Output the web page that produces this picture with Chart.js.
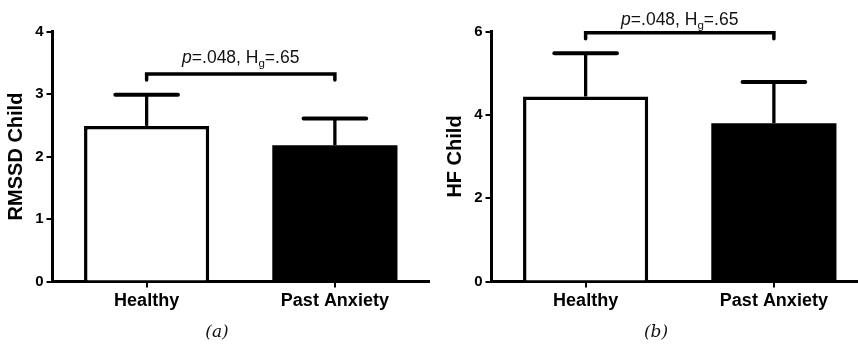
<!DOCTYPE html>
<html>
<head>
<meta charset="utf-8">
<script src="https://cdn.jsdelivr.net/npm/chart.js@4"></script>
<style>
  html, body { margin: 0; padding: 0; background: #fff; overflow: hidden; width: 858px; height: 346px; }
  .panel { position: absolute; top: 0; width: 430px; height: 346px; }
  .cap { position: absolute; top: 323px; width: 100px; margin-left: -50px; text-align: center;
         font: italic 17px/17px "DejaVu Serif", serif; color: #111; }
</style>
</head>
<body>
<div class="panel" style="left:0"><canvas id="chartA" width="430" height="346"></canvas></div>
<div class="panel" style="left:439px"><canvas id="chartB" width="430" height="346"></canvas></div>
<div class="cap" style="left:217px">(a)</div>
<div class="cap" style="left:656px">(b)</div>
<script>
// Groups and per-panel values (mean and upper error)
const groups = ['Healthy', 'Past Anxiety'];

const rmssdMeans  = [2.49, 2.18];
const rmssdErrors = [0.50, 0.43];
const rmssdMax = 4, rmssdStep = 1;
const rmssdBracket = 3.32;

const hfMeans  = [4.44, 3.80];
const hfErrors = [1.04, 0.99];
const hfMax = 6, hfStep = 2;
const hfBracket = 5.97;

// Comparison annotation: italic p, then H with subscript g
const statP = 'p';
const statMid = '=.048, H';
const statSub = 'g';
const statEnd = '=.65';

const FONT = '"Liberation Sans", Arial, sans-serif';

// Upper error bars: stem from the bar top plus a rounded cap
const errorBarPlugin = {
  id: 'errorBars',
  afterDatasetsDraw(chart) {
    const ctx = chart.ctx, y = chart.scales.y;
    chart.data.datasets.forEach((ds, di) => {
      chart.getDatasetMeta(di).data.forEach((bar, i) => {
        const base = y.getPixelForValue(ds.data[i]);
        const top = y.getPixelForValue(ds.data[i] + ds.errors[i]);
        const half = bar.width / 4;
        ctx.save();
        ctx.strokeStyle = '#000';
        ctx.lineWidth = 3.3;
        ctx.lineCap = 'butt';
        ctx.beginPath(); ctx.moveTo(bar.x, base); ctx.lineTo(bar.x, top); ctx.stroke();
        ctx.lineWidth = 4;
        ctx.lineCap = 'round';
        ctx.beginPath(); ctx.moveTo(bar.x - half, top); ctx.lineTo(bar.x + half, top); ctx.stroke();
        ctx.restore();
      });
    });
  }
};

// Significance bracket between the two groups with its label
const bracketPlugin = {
  id: 'sigBracket',
  afterDraw(chart, args, opts) {
    const ctx = chart.ctx, y = chart.scales.y;
    const bars = chart.getDatasetMeta(0).data;
    const x0 = bars[0].x, x1 = bars[1].x;
    const by = y.getPixelForValue(opts.level);
    ctx.save();
    ctx.strokeStyle = '#000';
    ctx.lineWidth = 3.5;
    ctx.lineCap = 'round';
    ctx.lineJoin = 'miter';
    ctx.beginPath();
    ctx.moveTo(x0, by + 6); ctx.lineTo(x0, by); ctx.lineTo(x1, by); ctx.lineTo(x1, by + 6);
    ctx.stroke();

    const big = '17.5px ' + FONT, ital = 'italic 17.5px ' + FONT, small = '11.5px ' + FONT;
    const parts = [[statP, ital, 0], [statMid, big, 0], [statSub, small, 4], [statEnd, big, 0]];
    let total = 0;
    parts.forEach(p => { ctx.font = p[1]; total += ctx.measureText(p[0]).width; });
    let x = (x0 + x1) / 2 - total / 2;
    const base = by - opts.gap;
    ctx.fillStyle = '#111';
    ctx.textBaseline = 'alphabetic';
    ctx.textAlign = 'left';
    parts.forEach(p => {
      ctx.font = p[1];
      ctx.fillText(p[0], x, base + p[2]);
      x += ctx.measureText(p[0]).width;
    });
    ctx.restore();
  }
};

function makeChart(id, yTitle, means, errors, yMax, yStep, level, gap) {
  return new Chart(document.getElementById(id), {
    type: 'bar',
    data: {
      labels: groups,
      datasets: [{
        data: means,
        errors: errors,
        backgroundColor: ['#ffffff', '#000000'],
        borderColor: '#000',
        borderWidth: [3.5, 0],
        borderSkipped: 'bottom',
        categoryPercentage: 1,
        barPercentage: 0.665
      }]
    },
    options: {
      responsive: false,
      devicePixelRatio: 1,
      animation: false,
      events: [],
      layout: { padding: { left: 0, right: 1, top: 31.5, bottom: 34.5 } },
      plugins: {
        legend: { display: false },
        tooltip: { enabled: false },
        sigBracket: { level: level, gap: gap }
      },
      scales: {
        x: {
          afterFit(s) { s.height = 30; },
          grid: { display: true, drawOnChartArea: false, drawTicks: true, offset: false,
                  tickLength: 6, lineWidth: 2, color: '#000' },
          border: { display: true, color: '#000', width: 3 },
          ticks: { color: '#000', padding: 3, font: { family: FONT, size: 18, weight: 'bold' } }
        },
        y: {
          min: 0, max: yMax,
          afterFit(s) { s.width = 52.5; },
          grid: { display: true, drawOnChartArea: false, drawTicks: true,
                  tickLength: 6, lineWidth: 2, color: '#000' },
          border: { display: true, color: '#000', width: 3 },
          ticks: { stepSize: yStep, color: '#000', padding: 3,
                   font: { family: FONT, size: 15, weight: 'bold' } },
          title: { display: true, text: yTitle, color: '#000', padding: { top: 4, bottom: 0 },
                   font: { family: FONT, size: 20, weight: 'bold', lineHeight: 1.2 } }
        }
      }
    },
    plugins: [errorBarPlugin, bracketPlugin]
  });
}

makeChart('chartA', 'RMSSD Child', rmssdMeans, rmssdErrors, rmssdMax, rmssdStep, rmssdBracket, 11);
makeChart('chartB', 'HF Child', hfMeans, hfErrors, hfMax, hfStep, hfBracket, 8);
</script>
</body>
</html>
